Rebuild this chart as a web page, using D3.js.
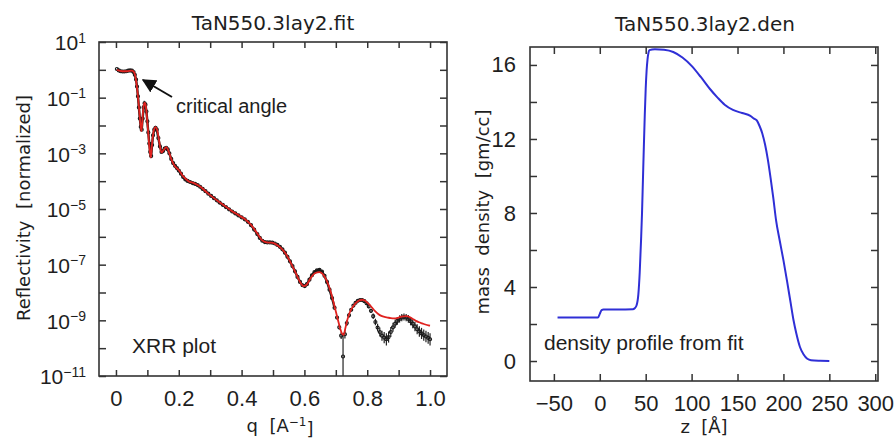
<!DOCTYPE html>
<html>
<head>
<meta charset="utf-8">
<script src="https://cdn.jsdelivr.net/npm/d3@7"></script>
<style>
  body { margin: 0; background: #fff; }
  svg text { fill: #1e1e1e; white-space: pre; }
</style>
</head>
<body>
<div id="chart"></div>
<script>
// measured reflectivity: [q, log10(R), error half-width in decades]
const xrrData = [
  [0.003, 0.03, 0], [0.009, -0.02, 0], [0.015, -0.05, 0], [0.021, -0.06, 0], [0.027, -0.06, 0],
  [0.033, -0.05, 0], [0.039, -0.03, 0], [0.045, -0.02, 0], [0.051, -0.03, 0], [0.056, -0.08, 0],
  [0.060, -0.18, 0], [0.064, -0.35, 0], [0.067, -0.6, 0], [0.070, -0.95, 0], [0.073, -1.35, 0],
  [0.076, -1.75, 0], [0.079, -2.05, 0], [0.082, -2.15, 0], [0.085, -1.75, 0], [0.088, -1.35, 0],
  [0.091, -1.2, 0], [0.094, -1.25, 0], [0.097, -1.5, 0], [0.100, -1.85, 0], [0.103, -2.25, 0],
  [0.106, -2.65, 0], [0.109, -2.95, 0], [0.112, -3.1, 0], [0.115, -2.7, 0], [0.118, -2.35, 0],
  [0.122, -2.15, 0], [0.126, -2.08, 0], [0.130, -2.15, 0], [0.135, -2.45, 0], [0.140, -2.75, 0],
  [0.145, -2.95, 0], [0.150, -2.92, 0], [0.155, -2.83, 0], [0.160, -2.8, 0], [0.165, -2.86, 0],
  [0.170, -3.0, 0], [0.176, -3.2, 0], [0.182, -3.35, 0], [0.188, -3.45, 0], [0.194, -3.53, 0],
  [0.200, -3.62, 0], [0.207, -3.73, 0], [0.214, -3.85, 0], [0.221, -3.94, 0], [0.228, -3.99, 0],
  [0.236, -4.03, 0], [0.244, -4.07, 0], [0.252, -4.1, 0], [0.260, -4.14, 0], [0.268, -4.2, 0],
  [0.276, -4.28, 0], [0.285, -4.36, 0], [0.294, -4.45, 0], [0.303, -4.53, 0], [0.312, -4.61, 0],
  [0.321, -4.69, 0], [0.330, -4.77, 0], [0.340, -4.85, 0], [0.350, -4.93, 0], [0.360, -5.01, 0],
  [0.370, -5.09, 0], [0.380, -5.16, 0], [0.390, -5.23, 0], [0.400, -5.3, 0], [0.410, -5.37, 0],
  [0.420, -5.46, 0], [0.430, -5.58, 0], [0.440, -5.74, 0], [0.450, -5.9, 0], [0.458, -6.04, 0],
  [0.466, -6.14, 0], [0.474, -6.19, 0], [0.482, -6.2, 0], [0.490, -6.2, 0], [0.498, -6.21, 0],
  [0.506, -6.24, 0], [0.514, -6.29, 0], [0.522, -6.36, 0], [0.530, -6.45, 0], [0.538, -6.57, 0],
  [0.546, -6.72, 0], [0.554, -6.88, 0], [0.562, -7.05, 0], [0.570, -7.24, 0], [0.578, -7.44, 0],
  [0.586, -7.62, 0], [0.594, -7.74, 0], [0.601, -7.77, 0], [0.608, -7.7, 0], [0.616, -7.54, 0],
  [0.624, -7.38, 0], [0.632, -7.27, 0], [0.640, -7.2, 0], [0.648, -7.19, 0], [0.656, -7.25, 0],
  [0.664, -7.4, 0], [0.672, -7.62, 0], [0.680, -7.9, 0], [0.688, -8.2, 0], [0.696, -8.55, 0],
  [0.704, -8.9, 0.05], [0.711, -9.25, 0.08], [0.717, -9.55, 0.12], [0.723, -10.3, 0.8], [0.729, -9.5, 0.15],
  [0.735, -9.1, 0.1], [0.742, -8.82, 0.08], [0.749, -8.62, 0.06], [0.756, -8.47, 0.06], [0.763, -8.37, 0.05],
  [0.770, -8.3, 0.05], [0.777, -8.27, 0.05], [0.784, -8.27, 0.05], [0.791, -8.31, 0.06], [0.798, -8.39, 0.06],
  [0.805, -8.5, 0.07], [0.812, -8.66, 0.08], [0.819, -8.85, 0.1], [0.826, -9.06, 0.12], [0.833, -9.26, 0.14],
  [0.840, -9.42, 0.16], [0.847, -9.55, 0.18], [0.854, -9.62, 0.2], [0.861, -9.68, 0.22], [0.868, -9.6, 0.2],
  [0.875, -9.42, 0.18], [0.882, -9.25, 0.16], [0.889, -9.12, 0.15], [0.896, -9.02, 0.14], [0.903, -8.95, 0.13],
  [0.910, -8.9, 0.13], [0.917, -8.88, 0.13], [0.924, -8.9, 0.13], [0.931, -8.95, 0.14], [0.938, -9.03, 0.15],
  [0.945, -9.12, 0.16], [0.952, -9.22, 0.17], [0.959, -9.32, 0.18], [0.966, -9.4, 0.19], [0.973, -9.47, 0.2],
  [0.980, -9.53, 0.2], [0.987, -9.58, 0.21], [0.994, -9.63, 0.21], [1.000, -9.68, 0.22]
];

// model fit: [q, log10(R)]
const xrrFit = [
  [0.003, 0.0], [0.02, -0.05], [0.035, -0.05], [0.05, -0.03], [0.057, -0.07], [0.062, -0.25],
  [0.066, -0.55], [0.070, -0.95], [0.074, -1.45], [0.078, -1.95], [0.081, -2.2], [0.084, -1.85],
  [0.087, -1.4], [0.091, -1.18], [0.095, -1.3], [0.099, -1.75], [0.103, -2.3], [0.107, -2.85],
  [0.111, -3.15], [0.115, -2.65], [0.120, -2.2], [0.126, -2.06], [0.132, -2.2], [0.138, -2.6],
  [0.145, -2.97], [0.152, -2.88], [0.160, -2.78], [0.167, -2.9], [0.175, -3.17], [0.185, -3.42],
  [0.2, -3.6], [0.215, -3.84], [0.23, -3.99], [0.25, -4.08], [0.27, -4.21], [0.29, -4.41],
  [0.31, -4.59], [0.33, -4.76], [0.35, -4.92], [0.37, -5.08], [0.39, -5.22], [0.41, -5.36],
  [0.43, -5.57], [0.45, -5.88], [0.465, -6.12], [0.48, -6.2], [0.495, -6.21], [0.51, -6.27],
  [0.525, -6.4], [0.54, -6.6], [0.555, -6.9], [0.57, -7.24], [0.585, -7.6], [0.597, -7.77],
  [0.607, -7.72], [0.62, -7.48], [0.635, -7.3], [0.648, -7.27], [0.66, -7.36], [0.672, -7.6],
  [0.684, -7.98], [0.696, -8.5], [0.706, -8.95], [0.714, -9.3], [0.72, -9.48], [0.725, -9.52],
  [0.73, -9.3], [0.737, -8.97], [0.745, -8.7], [0.755, -8.5], [0.765, -8.36], [0.775, -8.28],
  [0.785, -8.26], [0.795, -8.31], [0.805, -8.41], [0.815, -8.54], [0.825, -8.67], [0.835, -8.77],
  [0.845, -8.84], [0.855, -8.88], [0.865, -8.9], [0.875, -8.92], [0.885, -8.93], [0.895, -8.92],
  [0.905, -8.88], [0.915, -8.86], [0.925, -8.85], [0.935, -8.88], [0.945, -8.95], [0.955, -9.02],
  [0.965, -9.07], [0.975, -9.11], [0.985, -9.15], [0.995, -9.18], [1.0, -9.19]
];

// density profile
const densZ = [-46, -20, -2, 0, 2, 4, 20, 36, 38, 40, 42, 43.5, 45, 46, 47, 48, 49, 50, 51, 52, 53, 54,
  60, 70, 80, 90, 100, 110, 120, 128, 136, 145, 155, 164, 168, 171, 174, 177, 180, 183, 186, 189, 192,
  196, 200, 204, 208, 211, 214, 218, 222, 226, 230, 240, 250];
const densRho = [2.35, 2.35, 2.35, 2.55, 2.75, 2.78, 2.78, 2.8, 2.85, 3.0, 3.6, 4.8, 6.6, 8.0, 9.8, 11.6, 13.3, 14.7, 15.7, 16.3, 16.65, 16.8,
  16.85, 16.82, 16.7, 16.4, 15.95, 15.35, 14.7, 14.25, 13.85, 13.57, 13.4, 13.25, 13.1, 13.0, 12.7, 12.3, 11.7, 10.9, 9.9, 8.8, 7.6,
  6.5, 5.45, 4.3, 3.1, 2.2, 1.5, 0.76, 0.35, 0.12, 0.04, 0.01, 0.0];

const reflExponents = [1, 0, -1, -2, -3, -4, -5, -6, -7, -8, -9, -10, -11];
const qTicks = [0, 0.1, 0.2, 0.3, 0.4, 0.5, 0.6, 0.7, 0.8, 0.9, 1.0];
const qLabels = {0: "0", 0.2: "0.2", 0.4: "0.4", 0.6: "0.6", 0.8: "0.8", 1: "1.0"};
const zTicks = [-50, 0, 50, 100, 150, 200, 250, 300];
const rhoTicks = [0, 2, 4, 6, 8, 10, 12, 14, 16];
const rhoLabelled = [0, 4, 8, 12, 16];

const width = 894, height = 439;
const svg = d3.select("#chart").append("svg")
    .attr("width", width)
    .attr("height", height)
    .style("font-family", "'Liberation Sans', Arial, sans-serif");

const frameColor = "#333";
const tickFont = "22px";

// ---------- left panel : reflectivity ----------
const L = { left: 99, right: 447, top: 42, bottom: 376 };

const x1 = d3.scaleLinear().domain([-0.054, 1.054]).range([L.left, L.right]);
const y1 = d3.scaleLog().domain([1e-11, 1e1]).range([L.bottom, L.top]);

function styleAxis(g) {
    g.select(".domain").remove();
    g.selectAll(".tick line").attr("stroke", frameColor).attr("stroke-width", 1.5);
    g.selectAll(".tick text").style("font-size", tickFont).attr("fill", "#1e1e1e");
}

svg.append("g")
    .attr("transform", `translate(0,${L.bottom})`)
    .call(d3.axisBottom(x1).tickValues(qTicks).tickSize(-6).tickPadding(14)
        .tickFormat(d => qLabels[Math.round(d * 10) / 10] || ""))
    .call(styleAxis);

svg.append("g")
    .attr("transform", `translate(0,${L.top})`)
    .call(d3.axisTop(x1).tickValues(qTicks).tickSize(-6).tickFormat(""))
    .call(styleAxis);

const yLeftAxis = svg.append("g")
    .attr("transform", `translate(${L.left},0)`)
    .call(d3.axisLeft(y1).tickValues(reflExponents.map(e => Math.pow(10, e))).tickSize(-7).tickPadding(13)
        .tickFormat(""))
    .call(styleAxis);

// decade labels as 10 with a superscript exponent
yLeftAxis.selectAll(".tick").each(function(d) {
    const e = Math.round(Math.log10(d));
    if (Math.abs(e) % 2 !== 1) return;
    const t = d3.select(this).select("text")
        .attr("dy", "0.38em")
        .style("font-size", "21px");
    t.append("tspan").text("10");
    t.append("tspan")
        .attr("dy", "-0.55em")
        .style("font-size", "14px")
        .text(e < 0 ? "\u2212" + (-e) : String(e));
});

svg.append("g")
    .attr("transform", `translate(${L.right},0)`)
    .call(d3.axisRight(y1).tickValues(reflExponents.map(e => Math.pow(10, e))).tickSize(-7).tickFormat(""))
    .call(styleAxis);

svg.append("defs").append("clipPath")
    .attr("id", "clipL")
    .append("rect")
    .attr("x", L.left).attr("y", L.top)
    .attr("width", L.right - L.left).attr("height", L.bottom - L.top);

const plotL = svg.append("g").attr("clip-path", "url(#clipL)");

// dense data points read as a dark band, so join them with a line underneath
const dataLine = d3.line()
    .x(d => x1(d[0]))
    .y(d => y1(Math.pow(10, d[1])));

plotL.append("path")
    .datum(xrrData.filter(d => d[0] < 0.7))
    .attr("fill", "none")
    .attr("stroke", "#1a1a1a")
    .attr("stroke-width", 2.4)
    .attr("d", dataLine);

// error bars
const withErr = xrrData.filter(d => d[2] > 0);
plotL.selectAll(".err")
    .data(withErr)
    .enter().append("line")
    .attr("class", "err")
    .attr("x1", d => x1(d[0])).attr("x2", d => x1(d[0]))
    .attr("y1", d => y1(Math.pow(10, d[1] - d[2])))
    .attr("y2", d => y1(Math.pow(10, d[1] + d[2])))
    .attr("stroke", "#222")
    .attr("stroke-width", 1.2);

plotL.selectAll(".dot")
    .data(xrrData)
    .enter().append("circle")
    .attr("class", "dot")
    .attr("cx", d => x1(d[0]))
    .attr("cy", d => y1(Math.pow(10, d[1])))
    .attr("r", 1.5)
    .attr("fill", "none")
    .attr("stroke", "#1a1a1a")
    .attr("stroke-width", 1.2);

const fitLine = d3.line()
    .x(d => x1(d[0]))
    .y(d => y1(Math.pow(10, d[1])))
    .curve(d3.curveMonotoneX);

plotL.append("path")
    .datum(xrrFit)
    .attr("fill", "none")
    .attr("stroke", "#e0221f")
    .attr("stroke-width", 1.8)
    .attr("d", fitLine);

svg.append("rect")
    .attr("x", L.left).attr("y", L.top)
    .attr("width", L.right - L.left).attr("height", L.bottom - L.top)
    .attr("fill", "none")
    .attr("stroke", frameColor)
    .attr("stroke-width", 1.6);

// titles and axis labels
svg.append("text")
    .attr("x", 273).attr("y", 30)
    .attr("text-anchor", "middle")
    .style("font-family", "'DejaVu Sans', sans-serif")
    .style("font-size", "20px")
    .text("TaN550.3lay2.fit");

svg.append("text")
    .attr("transform", "translate(30,208) rotate(-90)")
    .attr("text-anchor", "middle")
    .style("font-family", "'DejaVu Sans', sans-serif")
    .style("font-size", "18px")
    .text("Reflectivity  [normalized]");

const qLab = svg.append("text")
    .attr("x", 280).attr("y", 432)
    .attr("text-anchor", "middle")
    .style("font-family", "'DejaVu Sans', sans-serif")
    .style("font-size", "18px");
qLab.append("tspan").text("q  [A");
qLab.append("tspan").attr("dy", "-0.5em").style("font-size", "12px").text("\u22121");
qLab.append("tspan").attr("dy", "0.5em").text("]");

// annotation arrow
svg.append("defs").append("marker")
    .attr("id", "arrowhead")
    .attr("viewBox", "0 0 10 10")
    .attr("refX", 9).attr("refY", 5)
    .attr("markerWidth", 7).attr("markerHeight", 7)
    .attr("markerUnits", "strokeWidth")
    .attr("orient", "auto")
    .append("path")
    .attr("d", "M0,0 L10,5 L0,10 z")
    .attr("fill", "#111");

svg.append("line")
    .attr("x1", 172).attr("y1", 97)
    .attr("x2", 143).attr("y2", 80)
    .attr("stroke", "#111")
    .attr("stroke-width", 2)
    .attr("marker-end", "url(#arrowhead)");

svg.append("text")
    .attr("x", 176).attr("y", 113)
    .style("font-size", "20px")
    .attr("fill", "#111")
    .text("critical angle");

svg.append("text")
    .attr("x", 132).attr("y", 353)
    .style("font-size", "21px")
    .attr("fill", "#111")
    .text("XRR plot");

// ---------- right panel : density ----------
const R = { left: 530, right: 878, top: 47, bottom: 381 };

const x2 = d3.scaleLinear().domain([-76, 303]).range([R.left, R.right]);
const y2 = d3.scaleLinear().domain([-1.08, 16.97]).range([R.bottom, R.top]);

svg.append("g")
    .attr("transform", `translate(0,${R.bottom})`)
    .call(d3.axisBottom(x2).tickValues(zTicks).tickSize(-7).tickPadding(14)
        .tickFormat(d => d < 0 ? "\u2212" + (-d) : String(d)))
    .call(styleAxis);

svg.append("g")
    .attr("transform", `translate(0,${R.top})`)
    .call(d3.axisTop(x2).tickValues(zTicks).tickSize(-7).tickFormat(""))
    .call(styleAxis);

svg.append("g")
    .attr("transform", `translate(${R.left},0)`)
    .call(d3.axisLeft(y2).tickValues(rhoTicks).tickSize(-7).tickPadding(14)
        .tickFormat(d => rhoLabelled.includes(d) ? String(d) : ""))
    .call(styleAxis);

svg.append("g")
    .attr("transform", `translate(${R.right},0)`)
    .call(d3.axisRight(y2).tickValues(rhoTicks).tickSize(-7).tickFormat(""))
    .call(styleAxis);

const densLine = d3.line()
    .x(i => x2(densZ[i]))
    .y(i => y2(densRho[i]))
    .curve(d3.curveMonotoneX);

svg.append("path")
    .datum(d3.range(densZ.length))
    .attr("fill", "none")
    .attr("stroke", "#2f2fd6")
    .attr("stroke-width", 2)
    .attr("d", densLine);

svg.append("rect")
    .attr("x", R.left).attr("y", R.top)
    .attr("width", R.right - R.left).attr("height", R.bottom - R.top)
    .attr("fill", "none")
    .attr("stroke", frameColor)
    .attr("stroke-width", 1.6);

svg.append("text")
    .attr("x", 705).attr("y", 31)
    .attr("text-anchor", "middle")
    .style("font-family", "'DejaVu Sans', sans-serif")
    .style("font-size", "20px")
    .text("TaN550.3lay2.den");

svg.append("text")
    .attr("transform", "translate(489,212) rotate(-90)")
    .attr("text-anchor", "middle")
    .style("font-family", "'DejaVu Sans', sans-serif")
    .style("font-size", "18px")
    .text("mass  density  [gm/cc]");

svg.append("text")
    .attr("x", 704).attr("y", 433)
    .attr("text-anchor", "middle")
    .style("font-family", "'DejaVu Sans', sans-serif")
    .style("font-size", "18px")
    .text("z  [\u00c5]");

svg.append("text")
    .attr("x", 544).attr("y", 350)
    .style("font-size", "21px")
    .attr("fill", "#111")
    .text("density profile from fit");
</script>
</body>
</html>
